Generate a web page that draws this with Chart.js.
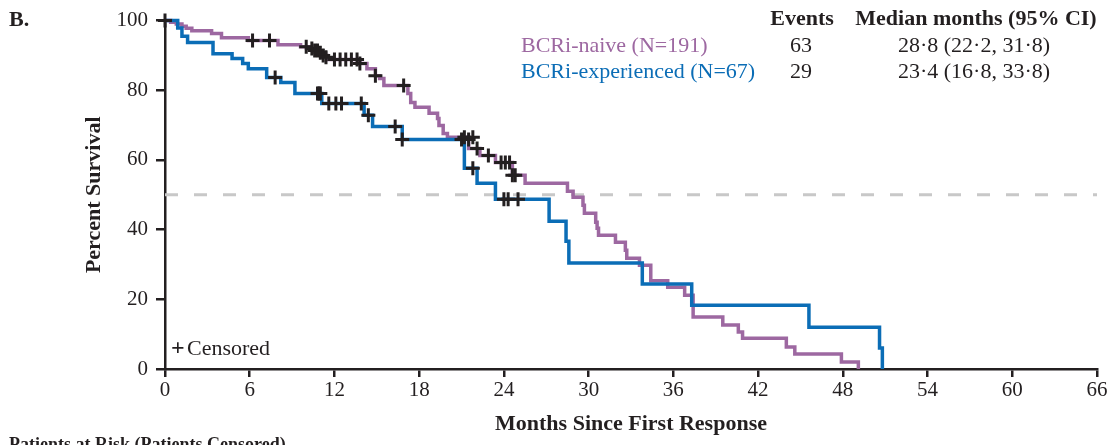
<!DOCTYPE html>
<html>
<head>
<meta charset="utf-8">
<script src="https://cdn.jsdelivr.net/npm/chart.js@4"></script>
<style>
  body { margin: 0; background: #fff; }
  canvas { display: block; }
</style>
</head>
<body>
<canvas id="kmChart" width="1110" height="445"></canvas>
<script>
const xTicks = [0, 6, 12, 18, 24, 30, 36, 42, 48, 54, 60, 66];
const yTicks = [0, 20, 40, 60, 80, 100];

// BCRi-naive curve (month, % surviving after the step)
const naiveMonths = [0, 0.4, 0.8, 1.2, 1.5, 1.9, 3.3, 4.0, 5.9, 8.0, 9.6, 10.2, 10.6, 10.9, 11.2, 11.5, 13.8, 14.3, 14.9, 15.2, 15.5, 17.2, 17.4, 17.7, 18.7, 19.3, 19.4, 19.7, 20.0, 21.5, 22.3, 23.4, 24.6, 25.5, 28.5, 28.9, 29.6, 29.7, 30.5, 30.6, 30.7, 31.9, 32.6, 32.7, 33.6, 34.4, 35.6, 36.8, 37.4, 39.5, 40.6, 40.9, 44.0, 44.6, 47.9, 49.1];
const naiveSurv = [100, 99.5, 99.0, 98.4, 97.8, 97.1, 96.3, 95.1, 94.3, 93.1, 92.5, 92.0, 91.4, 90.8, 90.0, 88.8, 87.7, 86.2, 84.2, 83.4, 81.4, 79.1, 76.5, 75.1, 73.4, 71.9, 69.9, 67.6, 66.5, 63.3, 61.3, 59.3, 55.6, 53.3, 51.0, 49.3, 47.0, 44.7, 42.1, 40.4, 38.4, 36.4, 34.1, 31.8, 29.8, 25.3, 23.5, 21.2, 14.9, 12.6, 10.6, 8.8, 6.3, 4.3, 2.0, 0];

// BCRi-experienced curve
const expMonths = [0, 0.9, 1.2, 1.6, 3.4, 4.75, 5.5, 5.9, 7.2, 8.2, 9.2, 11.1, 14.1, 14.7, 16.8, 21.2, 22.1, 23.4, 27.2, 28.4, 28.6, 33.8, 37.3, 45.6, 50.6, 50.8];
const expSurv = [100, 97.9, 95.5, 93.7, 90.5, 89.1, 87.7, 86.2, 83.7, 82.2, 79.1, 76.2, 72.8, 69.6, 65.9, 57.6, 53.3, 48.7, 42.4, 36.7, 30.4, 24.4, 18.3, 12.0, 6.0, 0];

// censored patients
const naiveCensorMonths = [6.2, 7.4, 10.0, 10.4, 10.6, 10.8, 11.0, 11.2, 11.4, 12.0, 12.4, 12.8, 13.2, 13.6, 13.8, 14.9, 16.9, 21.2, 21.8, 22.1, 22.9, 23.8, 24.1, 24.4, 24.6, 24.8];
const naiveCensorSurv = [94.3, 94.3, 92.5, 92.0, 91.4, 91.4, 90.8, 90.0, 89.5, 88.8, 88.8, 88.8, 88.8, 88.8, 87.7, 84.2, 81.4, 66.5, 66.5, 63.3, 61.3, 59.3, 59.3, 59.3, 55.6, 55.6];
const expCensorMonths = [0, 7.8, 10.8, 10.9, 11.0, 11.6, 12.1, 12.5, 13.9, 14.4, 16.3, 16.8, 21.0, 21.5, 21.8, 24.0, 24.3, 25.0];
const expCensorSurv = [100, 83.7, 79.1, 79.1, 79.1, 76.2, 76.2, 76.2, 76.2, 72.8, 69.6, 65.9, 65.9, 65.9, 57.6, 48.7, 48.7, 48.7];

const medianLine = [50, 50];

const purple = '#9d68a1';
const blue = '#0b6db6';
const ink = '#231f20';
const serif = '"Liberation Serif", "Times New Roman", serif';

const toPoints = (xs, ys) => xs.map((x, i) => ({ x: x, y: ys[i] }));

const textPlugin = {
  id: 'textPlugin',
  afterDraw(chart) {
    const ctx = chart.ctx;
    ctx.save();
    ctx.textBaseline = 'middle';
    ctx.fillStyle = ink;
    ctx.textAlign = 'left';
    ctx.font = 'bold 22px ' + serif;
    ctx.fillText('B.', 9, 20);

    // table legend
    ctx.font = 'bold 22px ' + serif;
    ctx.textAlign = 'center';
    ctx.fillText('Events', 802, 19);
    ctx.fillText('Median months (95% CI)', 976, 19);

    ctx.font = '22px ' + serif;
    ctx.textAlign = 'left';
    ctx.fillStyle = purple;
    ctx.fillText('BCRi-naive (N=191)', 521, 46);
    ctx.fillStyle = blue;
    ctx.fillText('BCRi-experienced (N=67)', 521, 72);
    ctx.fillStyle = ink;
    ctx.textAlign = 'center';
    ctx.fillText('63', 801, 46);
    ctx.fillText('29', 801, 72);
    ctx.fillText('28·8 (22·2, 31·8)', 974, 46);
    ctx.fillText('23·4 (16·8, 33·8)', 974, 72);

    // censored key
    ctx.textAlign = 'left';
    ctx.font = 'bold 24px ' + serif;
    ctx.fillText('+', 171, 349);
    ctx.font = '22px ' + serif;
    ctx.fillText('Censored', 187, 349);

    // cut-off risk table heading
    ctx.font = 'bold 18px ' + serif;
    ctx.textBaseline = 'top';
    ctx.fillText('Patients at Risk (Patients Censored)', 9, 436);
    ctx.restore();
  }
};

new Chart(document.getElementById('kmChart'), {
  type: 'line',
  data: {
    datasets: [
      {
        label: 'Censored naive',
        type: 'scatter',
        data: toPoints(naiveCensorMonths, naiveCensorSurv),
        pointStyle: 'cross',
        pointRadius: 7,
        pointBorderWidth: 3,
        borderColor: ink,
        backgroundColor: ink,
        showLine: false,
        clip: false
      },
      {
        label: 'Censored experienced',
        type: 'scatter',
        data: toPoints(expCensorMonths, expCensorSurv),
        pointStyle: 'cross',
        pointRadius: 7,
        pointBorderWidth: 3,
        borderColor: ink,
        backgroundColor: ink,
        showLine: false,
        clip: false
      },
      {
        label: 'BCRi-experienced (N=67)',
        data: toPoints(expMonths, expSurv),
        stepped: 'before',
        borderColor: blue,
        borderWidth: 3.5,
        pointRadius: 0,
        fill: false,
        clip: false
      },
      {
        label: 'BCRi-naive (N=191)',
        data: toPoints(naiveMonths, naiveSurv),
        stepped: 'before',
        borderColor: purple,
        borderWidth: 3.5,
        pointRadius: 0,
        fill: false,
        clip: false
      },
      {
        label: 'Median',
        data: toPoints([0, 66], medianLine),
        borderColor: '#c8c8c8',
        borderWidth: 3,
        borderDash: [13, 16],
        pointRadius: 0,
        fill: false
      }
    ]
  },
  options: {
    responsive: false,
    animation: false,
    devicePixelRatio: 1,
    layout: { padding: { top: 20, right: 13, bottom: 0, left: 0 } },
    plugins: {
      legend: { display: false },
      tooltip: { enabled: false }
    },
    scales: {
      x: {
        type: 'linear',
        min: 0,
        max: 66,
        afterFit: (scale) => { scale.height = 76; },
        afterBuildTicks: (scale) => { scale.ticks = xTicks.map(v => ({ value: v })); },
        ticks: {
          color: ink,
          font: { family: serif, size: 21 },
          padding: 1,
          maxRotation: 0
        },
        grid: { drawOnChartArea: false, drawTicks: true, tickLength: 8, color: ink, lineWidth: 2.5 },
        border: { display: true, color: ink, width: 2.5 },
        title: {
          display: true,
          text: 'Months Since First Response',
          color: ink,
          font: { family: serif, size: 22, weight: 'bold' },
          padding: { top: 0, bottom: 7 }
        }
      },
      y: {
        min: 0,
        max: 100,
        afterFit: (scale) => { scale.width = 165; },
        afterBuildTicks: (scale) => { scale.ticks = yTicks.map(v => ({ value: v })); },
        ticks: {
          color: ink,
          font: { family: serif, size: 21 },
          padding: 8
        },
        grid: { drawOnChartArea: false, drawTicks: true, tickLength: 9, color: ink, lineWidth: 2.5 },
        border: { display: true, color: ink, width: 2.5 },
        title: {
          display: true,
          text: 'Percent Survival',
          color: ink,
          font: { family: serif, size: 22, weight: 'bold' },
          padding: { top: 81, bottom: 0 }
        }
      }
    }
  },
  plugins: [textPlugin]
});
</script>
</body>
</html>
